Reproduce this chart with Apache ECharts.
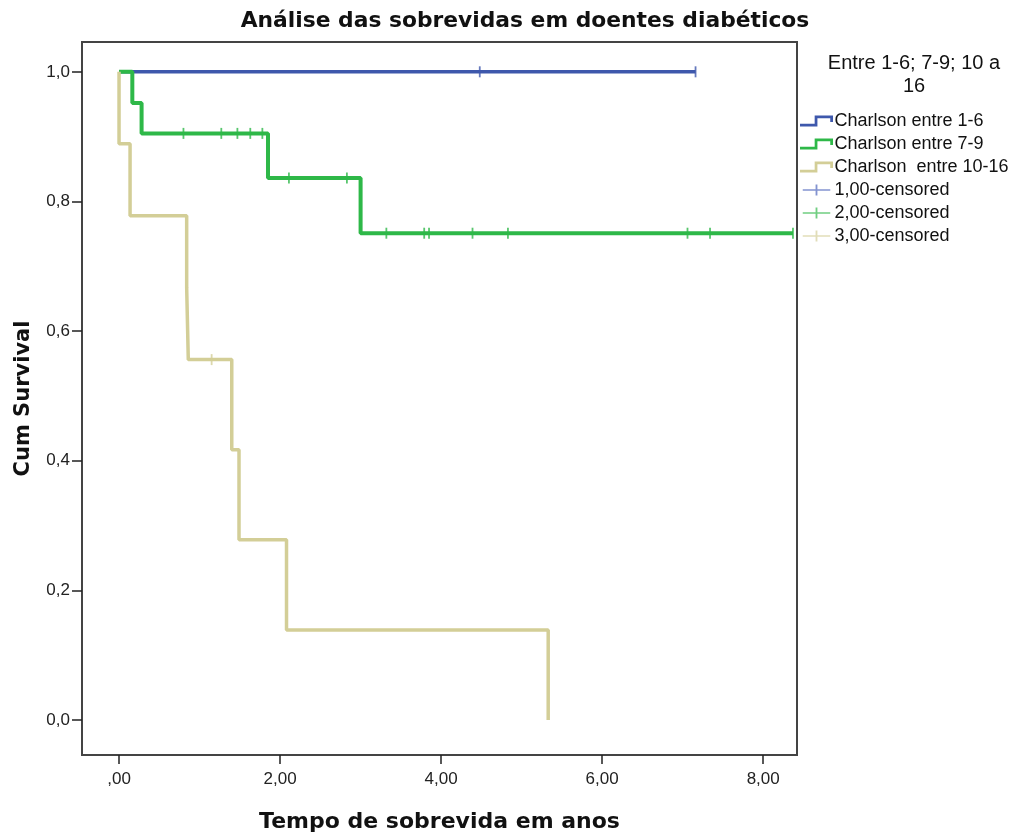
<!DOCTYPE html>
<html>
<head>
<meta charset="utf-8">
<script src="https://cdn.jsdelivr.net/npm/echarts@6/dist/echarts.min.js"></script>
<style>
  html, body { margin: 0; padding: 0; background: #fff; }
  #chart { width: 1029px; height: 838px; }
</style>
</head>
<body>
<div id="chart"></div>
<script>
// Kaplan-Meier curves: [tempo, sobrevida]
const curve16 = [[0, 1], [7.16, 1]]
const curve79 = [[0, 1], [0.165, 0.952], [0.28, 0.905], [1.85, 0.836], [3.0, 0.751], [8.37, 0.751]]
const curve1016 = [[0, 1], [0, 0.889], [0.137, 0.778], [0.84, 0.667], [0.86, 0.556],
  [1.40, 0.417], [1.49, 0.278], [2.08, 0.139], [5.33, 0]]

// censored cases
const cens16 = [[4.48, 1], [7.16, 1]]
const cens79 = [[0.80, 0.905], [1.27, 0.905], [1.47, 0.905], [1.63, 0.905], [1.78, 0.905],
  [2.11, 0.836], [2.83, 0.836],
  [3.32, 0.751], [3.79, 0.751], [3.85, 0.751], [4.39, 0.751], [4.83, 0.751],
  [7.06, 0.751], [7.34, 0.751], [8.37, 0.751]]
const cens1016 = [[1.15, 0.556]]

const seriesNames = ['Charlson entre 1-6', 'Charlson entre 7-9', 'Charlson  entre 10-16']
const censNames = ['1,00-censored', '2,00-censored', '3,00-censored']

const xTicks = [0, 2, 4, 6, 8]
const yTicks = [0, 0.2, 0.4, 0.6, 0.8, 1.0]

const colors = ['#3e58ac', '#2eb848', '#d3ce97']
const lightColors = ['#6478c4', '#4cc262', '#d9d4a6']

const stepIcon = 'path://M0,9 L16,9 L16,0 L36,0 L36,7 L33,7 L33,3 L19,3 L19,12 L0,12 Z'
const plusIcon = 'path://M0,5.2 L14,5.2 L14,0 L16,0 L16,5.2 L30,5.2 L30,6.8 L16,6.8 L16,12 L14,12 L14,6.8 L0,6.8 Z'

const fmtX = v => {
  if (v === 0) return ',00'
  return v.toFixed(2).replace('.', ',')
}
const fmtY = v => v.toFixed(1).replace('.', ',')

const chart = echarts.init(document.getElementById('chart'), null, { renderer: 'canvas' })

const curves = [curve16, curve79, curve1016]
const cens = [cens16, cens79, cens1016]
const widths = [3.5, 4, 3.5]

let series = []
curves.forEach((c, i) => {
  series.push({
    name: seriesNames[i],
    type: 'line',
    step: 'end',
    data: c,
    showSymbol: false,
    symbol: 'none',
    color: colors[i],
    itemStyle: { color: colors[i] },
    lineStyle: { color: colors[i], width: widths[i] },
    z: 2 + i,
    animation: false
  })
})
cens.forEach((c, i) => {
  series.push({
    name: censNames[i],
    type: 'scatter',
    data: c,
    symbol: 'rect',
    symbolSize: [1.8, 11],
    color: colors[i],
    itemStyle: { color: colors[i] },
    z: 6,
    animation: false
  })
})

const option = {
  backgroundColor: '#fff',
  animation: false,
  title: [{
    text: 'Análise das sobrevidas em doentes diabéticos',
    left: 520,
    textAlign: 'center',
    top: 5,
    textStyle: { fontFamily: 'DejaVu Sans', fontWeight: 'bold', fontSize: 21.8, color: '#111' }
  }, {
    text: 'Entre 1-6; 7-9; 10 a\n16',
    left: 909,
    textAlign: 'center',
    top: 47,
    textStyle: { fontFamily: 'Liberation Sans', fontWeight: 'normal', fontSize: 20, color: '#111', lineHeight: 23 }
  }],
  legend: {
    orient: 'vertical',
    left: 800,
    top: 112,
    padding: 0,
    itemWidth: 34,
    itemHeight: 11,
    itemGap: 5,
    selectedMode: false,
    textStyle: { fontFamily: 'Liberation Sans', fontSize: 18, color: '#111', padding: [0, 0, 0, -4] },
    data: [
      { name: seriesNames[0], icon: stepIcon, itemStyle: { color: colors[0] } },
      { name: seriesNames[1], icon: stepIcon, itemStyle: { color: colors[1] } },
      { name: seriesNames[2], icon: stepIcon, itemStyle: { color: colors[2] } },
      { name: censNames[0], icon: plusIcon, itemStyle: { color: lightColors[0] } },
      { name: censNames[1], icon: plusIcon, itemStyle: { color: lightColors[1] } },
      { name: censNames[2], icon: plusIcon, itemStyle: { color: lightColors[2] } }
    ]
  },
  grid: {
    left: 82, top: 42, width: 715, height: 714,
    show: true, borderColor: '#444', borderWidth: 2, backgroundColor: '#fff'
  },
  xAxis: {
    type: 'value',
    min: -0.46,
    max: 8.42,
    name: 'Tempo de sobrevida em anos',
    nameLocation: 'middle',
    nameGap: 56,
    nameTextStyle: { fontFamily: 'DejaVu Sans', fontWeight: 'bold', fontSize: 22, color: '#111' },
    axisLine: { onZero: false, lineStyle: { color: '#444', width: 2 } },
    axisTick: { show: true, length: 9, customValues: xTicks, lineStyle: { color: '#222', width: 1.5 } },
    axisLabel: { customValues: xTicks, formatter: fmtX, margin: 16, fontFamily: 'Liberation Sans', fontSize: 17, color: '#222' },
    splitLine: { show: false }
  },
  yAxis: {
    type: 'value',
    min: -0.054,
    max: 1.046,
    name: 'Cum Survival',
    nameLocation: 'middle',
    nameGap: 48,
    nameTextStyle: { fontFamily: 'DejaVu Sans', fontWeight: 'bold', fontSize: 21, color: '#111' },
    axisLine: { onZero: false, lineStyle: { color: '#444', width: 2 } },
    axisTick: { show: true, length: 10, customValues: yTicks, lineStyle: { color: '#222', width: 1.5 } },
    axisLabel: { customValues: yTicks, formatter: fmtY, margin: 12, fontFamily: 'Liberation Sans', fontSize: 17, color: '#222' },
    splitLine: { show: false }
  },
  series: series
}

chart.setOption(option)
</script>
</body>
</html>
